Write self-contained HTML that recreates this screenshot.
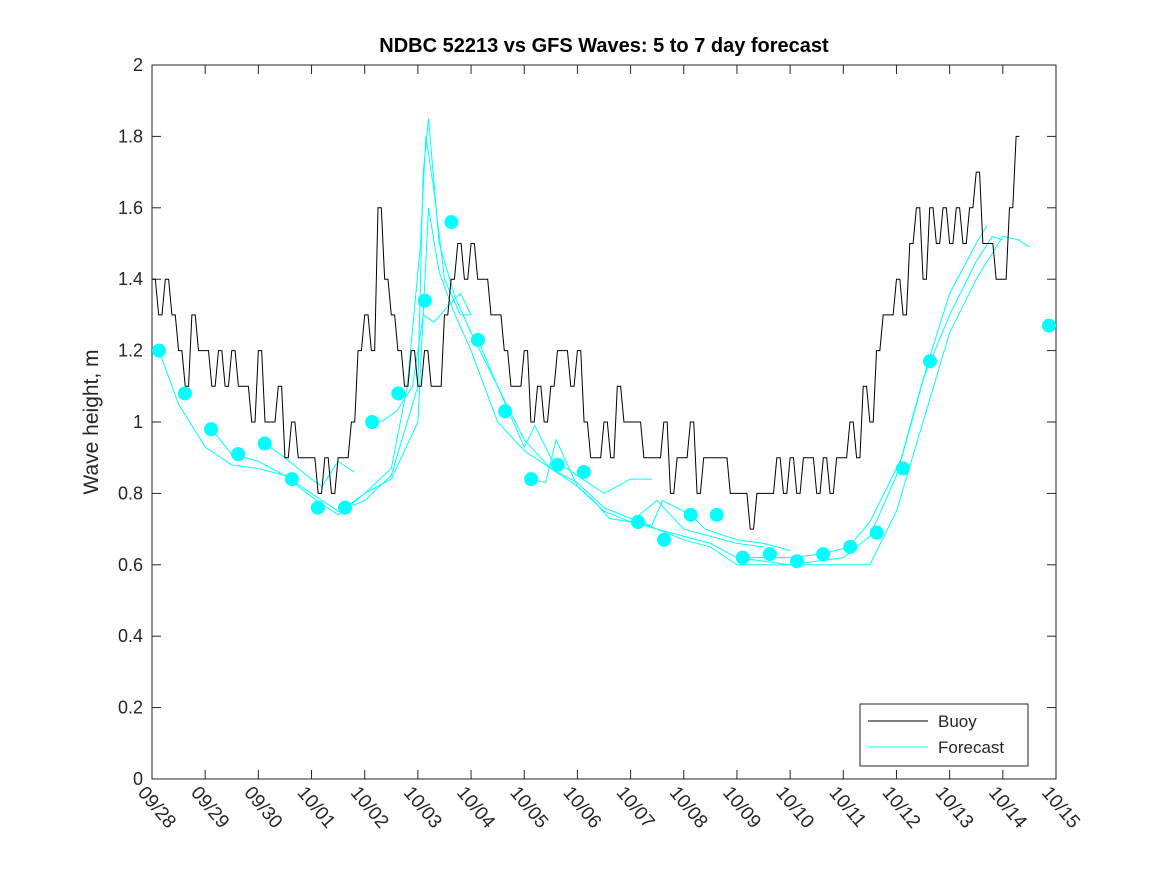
<!DOCTYPE html>
<html><head><meta charset="utf-8"><style>
body{margin:0;background:#fff;}
svg text{font-family:"Liberation Sans","DejaVu Sans",sans-serif;fill:#262626;}
</style></head><body>
<svg id="chart" width="1167" height="875" xmlns="http://www.w3.org/2000/svg">
<rect width="1167" height="875" fill="#fff"/>
<text x="604" y="52" text-anchor="middle" font-size="20" font-weight="bold" style="fill:#000">NDBC 52213 vs GFS Waves: 5 to 7 day forecast</text>
<text transform="translate(98,422) rotate(-90)" text-anchor="middle" font-size="21">Wave height, m</text>
<rect x="152" y="65" width="904" height="714" fill="none" stroke="#262626" stroke-width="1"/>
<g id="axes"></g>
<g id="series"></g>
<g>
<rect x="860" y="704" width="168" height="62" fill="#fff" stroke="#262626"/>
<line x1="868" y1="721" x2="928" y2="721" stroke="#000"/>
<text x="938" y="727" font-size="17">Buoy</text>
<line x1="868" y1="747" x2="928" y2="747" stroke="#00ffff"/>
<text x="938" y="753" font-size="17">Forecast</text>
</g>
</svg>
<script>
const xTickLabels=["09/28","09/29","09/30","10/01","10/02","10/03","10/04","10/05","10/06","10/07","10/08","10/09","10/10","10/11","10/12","10/13","10/14","10/15"];
const yTicks=[0,0.2,0.4,0.6,0.8,1,1.2,1.4,1.6,1.8,2];
const buoyStep=0.125;
const buoyValues=[1.4,1.3,1.4,1.3,1.2,1.1,1.3,1.2,1.2,1.1,1.2,1.1,1.2,1.1,1.1,1.0,
1.2,1.0,1.0,1.1,0.9,1.0,0.9,0.9,0.9,0.8,0.9,0.8,0.9,0.9,1.0,1.2,
1.3,1.2,1.6,1.4,1.3,1.2,1.1,1.2,1.1,1.2,1.1,1.1,1.3,1.4,1.5,1.4,
1.5,1.4,1.4,1.3,1.3,1.2,1.1,1.1,1.2,1.0,1.1,1.0,1.1,1.2,1.2,1.1,
1.2,1.0,0.9,0.9,1.0,0.9,1.1,1.0,1.0,1.0,0.9,0.9,0.9,1.0,0.8,0.9,
0.9,1.0,0.8,0.9,0.9,0.9,0.9,0.8,0.8,0.8,0.7,0.8,0.8,0.8,0.9,0.8,
0.9,0.8,0.9,0.9,0.8,0.9,0.8,0.9,0.9,1.0,0.9,1.1,1.0,1.2,1.3,1.3,
1.4,1.3,1.5,1.6,1.4,1.6,1.5,1.6,1.5,1.6,1.5,1.6,1.7,1.5,1.5,1.4,1.4,1.6,1.8];
const dotDays=[0.13,0.62,1.11,1.62,2.12,2.63,3.12,3.63,4.14,4.63,5.13,5.63,6.13,6.64,7.13,7.63,8.12,9.14,9.63,10.13,10.62,11.11,11.62,12.13,12.62,13.13,13.63,14.12,14.63,16.87];
const dotValues=[1.20,1.08,0.98,0.91,0.94,0.84,0.76,0.76,1.00,1.08,1.34,1.56,1.23,1.03,0.84,0.88,0.86,0.72,0.67,0.74,0.74,0.62,0.63,0.61,0.63,0.65,0.69,0.87,1.17,1.27];
const runA=[[0.13,1.2],[0.5,1.05],[1.0,0.93],[1.5,0.88],[2.0,0.87],[2.5,0.85],[3.0,0.8],[3.5,0.75],[4.0,0.78],[4.5,0.85],[5.0,1.1],[5.1,1.7],[5.2,1.85],[5.4,1.5],[5.7,1.35],[6.0,1.25],[6.5,1.1],[7.0,0.95],[7.5,0.87],[8.0,0.83],[8.5,0.76],[9.0,0.73],[9.5,0.7],[10,0.68],[10.5,0.66],[11,0.62],[12,0.6],[13,0.6],[13.5,0.6],[14,0.75],[14.5,1.0],[15,1.25],[15.5,1.4],[16,1.52],[16.3,1.51],[16.5,1.49]];
const runB=[[1.12,0.98],[1.5,0.91],[2.0,0.89],[2.5,0.85],[3.0,0.79],[3.5,0.74],[4.0,0.8],[4.5,0.84],[5.0,1.0],[5.2,1.6],[5.4,1.42],[5.7,1.3],[6.0,1.2],[6.5,1.0],[7.0,0.92],[7.5,0.87],[8.0,0.82],[8.5,0.75],[9.0,0.72],[9.5,0.7],[10,0.67],[10.5,0.65],[11,0.6],[12,0.6],[13,0.62],[13.5,0.68],[14,0.85],[14.5,1.12],[15,1.3],[15.5,1.45],[15.8,1.52],[16,1.51]];
const runC=[[2.12,0.94],[2.5,0.9],[3.0,0.84],[3.2,0.82],[3.5,0.89],[3.8,0.86]];
const runD=[[3.63,0.76],[4.0,0.8],[4.5,0.87],[4.8,1.1],[5.05,1.5],[5.15,1.8],[5.3,1.65],[5.5,1.4],[5.8,1.3],[6.0,1.3]];
const runE=[[4.14,1.0],[4.3,1.0],[4.6,1.03],[4.9,1.1],[5.1,1.3],[5.3,1.28],[5.6,1.33],[5.8,1.36],[6.0,1.3]];
const runF=[[6.13,1.23],[6.5,1.1],[7.0,0.93],[7.2,0.99],[7.5,0.9],[8.0,0.85],[8.5,0.8],[9.0,0.84],[9.4,0.84]];
const runG=[[7.13,0.84],[7.4,0.83],[7.6,0.95],[8.0,0.82],[8.3,0.78],[8.6,0.73],[9.0,0.72],[9.5,0.78],[10.0,0.7],[10.5,0.68],[11,0.66],[11.5,0.65]];
const runH=[[9.14,0.72],[9.4,0.71],[9.6,0.78],[10.13,0.74],[10.4,0.7],[11,0.67],[11.5,0.66],[12.0,0.64]];
const runI=[[11.11,0.62],[11.5,0.62],[12,0.62],[12.6,0.63],[13.1,0.65],[13.5,0.72],[14.1,0.9],[14.6,1.17],[15.0,1.36],[15.5,1.5],[15.7,1.55]];
const runs=[runA,runB,runC,runD,runE,runF,runG,runH,runI];

const X0=152,X1=1056,Y0=779,Y1=65;
const xs=d=>X0+d*(X1-X0)/17;
const ys=v=>Y0-v*(Y0-Y1)/2;
const NS="http://www.w3.org/2000/svg";
const axes=document.getElementById('axes'),ser=document.getElementById('series');
function mk(tag,attrs,parent){const e=document.createElementNS(NS,tag);for(const k in attrs)e.setAttribute(k,attrs[k]);parent.appendChild(e);return e;}
yTicks.forEach(v=>{
  const y=ys(v);
  const t=mk('line',{x1:X0,x2:X0+9,y1:y,y2:y,stroke:'#262626'},axes);
  
  
  mk('line',{x1:X1,x2:X1-9,y1:y,y2:y,stroke:'#262626'},axes);
  const l=mk('text',{x:X0-9,y:y+6,'text-anchor':'end','font-size':'18'},axes);
  l.textContent=String(v);
  
  
});
xTickLabels.forEach((s,i)=>{
  const x=xs(i);
  const t=mk('line',{x1:x,x2:x,y1:Y0,y2:Y0-9,stroke:'#262626'},axes);
  
  
  mk('line',{x1:x,x2:x,y1:Y1,y2:Y1+9,stroke:'#262626'},axes);
  const l=mk('text',{transform:`translate(${x-15},${Y0+14}) rotate(50)`,'font-size':'19'},axes);
  l.textContent=s;
  
  
});
runs.forEach(r=>{
  const p=mk('polyline',{points:r.map(q=>xs(q[0])+','+ys(q[1])).join(' '),fill:'none',stroke:'#00ffff','stroke-width':'1'},ser);
  
  
});
let pts=[];
buoyValues.forEach((v,i)=>{const x0=xs(i*buoyStep),x1=xs((i+1)*buoyStep);pts.push(x0+','+ys(v));pts.push((x0+x1)/2+','+ys(v));});
const b=mk('polyline',{points:pts.join(' '),fill:'none',stroke:'#000','stroke-width':'1'},ser);


dotDays.forEach((d,i)=>{
  const c=mk('circle',{cx:xs(d),cy:ys(dotValues[i]),r:7,fill:'#00ffff'},ser);
  
  
});
</script>
</body></html>
